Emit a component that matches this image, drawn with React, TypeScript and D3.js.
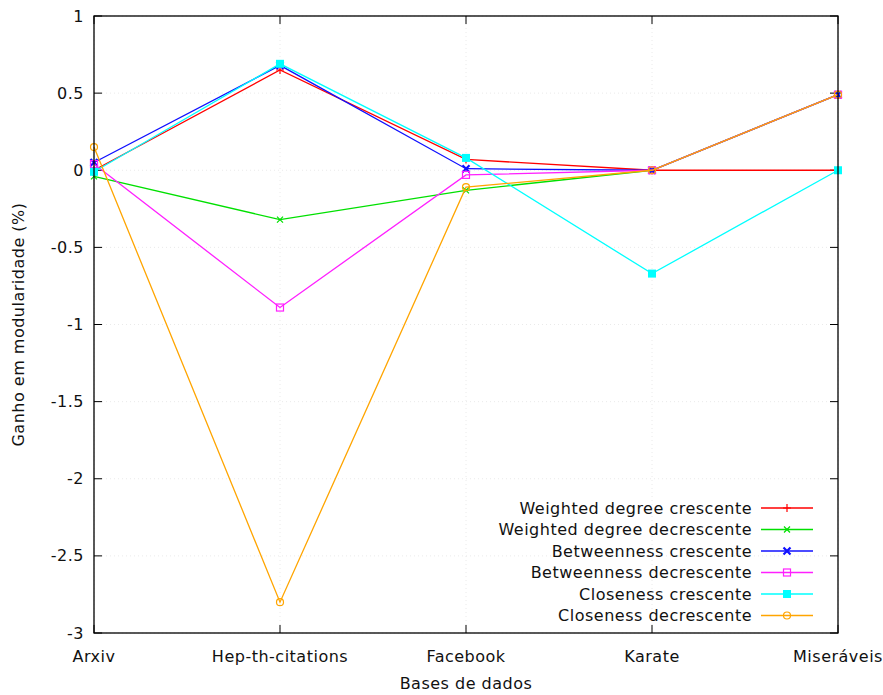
import React from 'react';
import * as d3 from 'd3';

const categories = ['Arxiv', 'Hep-th-citations', 'Facebook', 'Karate', 'Miseráveis'];
const yTicks = [1, 0.5, 0, -0.5, -1, -1.5, -2, -2.5, -3];

const weightedCresc = [0.0, 0.65, 0.07, 0, 0];
const weightedDecresc = [-0.04, -0.32, -0.13, 0, 0.49];
const betweenCresc = [0.05, 0.68, 0.01, 0, 0.49];
const betweenDecresc = [0.04, -0.89, -0.03, 0, 0.49];
const closeCresc = [-0.01, 0.69, 0.08, -0.67, 0];
const closeDecresc = [0.15, -2.8, -0.11, 0, 0.49];

const series = [
  { name: 'Weighted degree crescente', values: weightedCresc, color: '#ff0000', marker: 'plus' },
  { name: 'Weighted degree decrescente', values: weightedDecresc, color: '#00e000', marker: 'cross' },
  { name: 'Betweenness crescente', values: betweenCresc, color: '#1010ff', marker: 'star' },
  { name: 'Betweenness decrescente', values: betweenDecresc, color: '#ff20ff', marker: 'box' },
  { name: 'Closeness crescente', values: closeCresc, color: '#00ffff', marker: 'fbox' },
  { name: 'Closeness decrescente', values: closeDecresc, color: '#ffa500', marker: 'circle' },
];

const W = 883;
const H = 695;
const m = { left: 94, right: 45, top: 16, bottom: 62 };

const Marker = ({ type, x, y, color }: { type: string; x: number; y: number; color: string }) => {
  const s = 4;
  switch (type) {
    case 'plus':
      return <path d={`M${x - s},${y}H${x + s}M${x},${y - s}V${y + s}`} stroke={color} strokeWidth={1.2} />;
    case 'cross':
      return <path d={`M${x - 3},${y - 3}L${x + 3},${y + 3}M${x - 3},${y + 3}L${x + 3},${y - 3}`} stroke={color} strokeWidth={1.2} />;
    case 'star':
      return <path d={`M${x - 3.5},${y - 3.5}L${x + 3.5},${y + 3.5}M${x - 3.5},${y + 3.5}L${x + 3.5},${y - 3.5}`} stroke={color} strokeWidth={2.2} />;
    case 'box':
      return <rect x={x - 3.5} y={y - 3.5} width={7} height={7} fill="none" stroke={color} strokeWidth={1.2} />;
    case 'fbox':
      return <rect x={x - 4} y={y - 4} width={8} height={8} fill={color} />;
    default:
      return <circle cx={x} cy={y} r={3.5} fill="none" stroke={color} strokeWidth={1.2} />;
  }
};

export default function App() {
  const x = d3.scalePoint<string>().domain(categories).range([m.left, W - m.right]);
  const y = d3.scaleLinear().domain([-3, 1]).range([H - m.bottom, m.top]);
  const line = d3.line<number>()
    .x((_, i) => x(categories[i]) as number)
    .y(d => y(d));
  const font = '"DejaVu Sans", Verdana, sans-serif';
  const fs = 16;
  const ls = 0.5;
  const x0 = m.left;
  const x1 = W - m.right;
  const y0 = H - m.bottom;
  const y1 = m.top;
  const legX = 752;
  const legY = 508;
  const legStep = 21.5;

  return (
    <svg width={W} height={H} style={{ position: 'absolute', left: 0, top: 0 }} fontFamily={font}>
      <rect width={W} height={H} fill="#fff" />
      {/* faint grid */}
      {yTicks.map(t => (
        <line key={'gy' + t} x1={x0} x2={x1} y1={y(t)} y2={y(t)} stroke="#e4e4e4" strokeWidth={0.8} strokeDasharray="1,3" />
      ))}
      {categories.map(c => (
        <line key={'gx' + c} x1={x(c)} x2={x(c)} y1={y0} y2={y1} stroke="#e4e4e4" strokeWidth={0.8} strokeDasharray="1,3" />
      ))}
      {/* ticks */}
      {yTicks.map(t => (
        <g key={'ty' + t}>
          <line x1={x0} x2={x0 + 8} y1={y(t)} y2={y(t)} stroke="#000" />
          <line x1={x1} x2={x1 - 8} y1={y(t)} y2={y(t)} stroke="#000" />
          <text x={x0 - 10} y={y(t)} dy="0.35em" textAnchor="end" fontSize={fs} letterSpacing={ls} fill="#111">{t}</text>
        </g>
      ))}
      {categories.map(c => (
        <g key={'tx' + c}>
          <line x1={x(c)} x2={x(c)} y1={y0} y2={y0 - 8} stroke="#000" />
          <line x1={x(c)} x2={x(c)} y1={y1} y2={y1 + 8} stroke="#000" />
          <text x={x(c)} y={y0 + 29} textAnchor="middle" fontSize={fs} letterSpacing={ls} fill="#111">{c}</text>
        </g>
      ))}
      {/* series */}
      {series.map(s => (
        <g key={s.name}>
          <path d={line(s.values) ?? ''} fill="none" stroke={s.color} strokeWidth={1.3} />
          {s.values.map((v, i) => (
            <Marker key={i} type={s.marker} x={x(categories[i]) as number} y={y(v)} color={s.color} />
          ))}
        </g>
      ))}
      <rect x={x0} y={y1} width={x1 - x0} height={y0 - y1} fill="none" stroke="#000" strokeWidth={1.3} />
      {/* legend */}
      {series.map((s, i) => {
        const ly = legY + i * legStep;
        return (
          <g key={'l' + s.name}>
            <text x={legX} y={ly} dy="0.35em" textAnchor="end" fontSize={fs} letterSpacing={ls} fill="#111">{s.name}</text>
            <line x1={legX + 9} x2={legX + 61} y1={ly} y2={ly} stroke={s.color} strokeWidth={1.3} />
            <Marker type={s.marker} x={legX + 35} y={ly} color={s.color} />
          </g>
        );
      })}
      <text x={(x0 + x1) / 2} y={H - 6} textAnchor="middle" fontSize={fs} letterSpacing={ls} fill="#111">Bases de dados</text>
      <text transform={`translate(24,${(y0 + y1) / 2}) rotate(-90)`} textAnchor="middle" fontSize={fs} letterSpacing={ls} fill="#111">Ganho em modularidade (%)</text>
    </svg>
  );
}
